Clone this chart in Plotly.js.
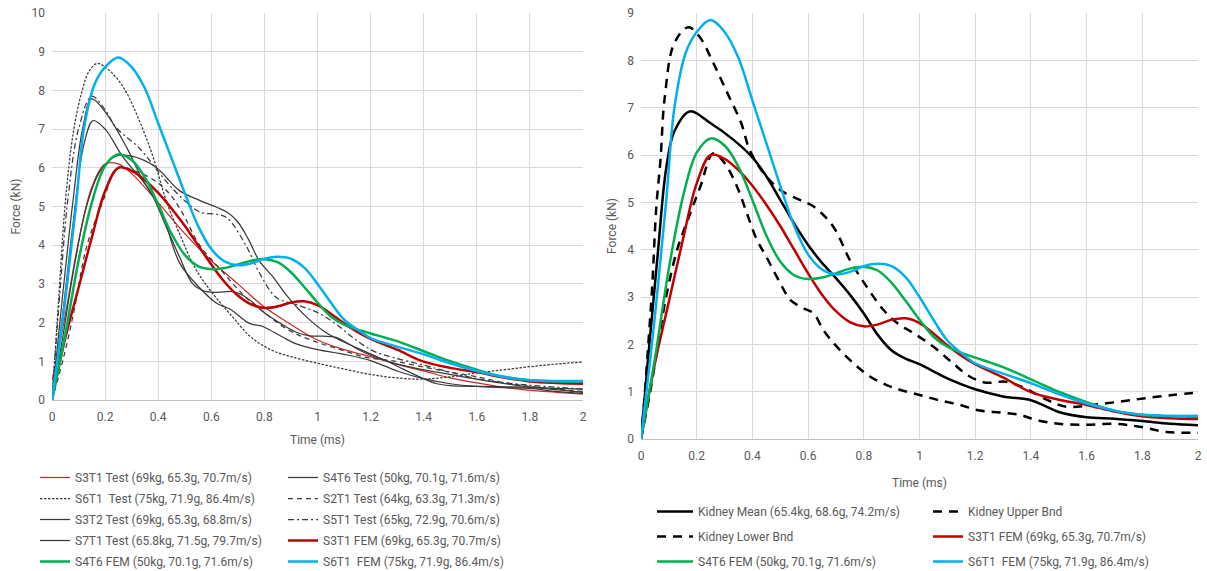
<!DOCTYPE html>
<html>
<head>
<meta charset="utf-8">
<script src="https://cdn.plot.ly/plotly-3.0.1.min.js"></script>
<style>
  html, body { margin: 0; padding: 0; background: #ffffff; }
  #chart { width: 1207px; height: 571px; }
</style>
</head>
<body>
<div id="chart"></div>
<script>
// ---- Impact force histories, time in ms, force in kN ----

// Test measurements (left panel)
const tS3T1Test = [0, 0.05, 0.1, 0.15, 0.2, 0.25, 0.3, 0.4, 0.5, 0.6, 0.7, 0.8, 0.9, 1.0, 1.1, 1.2, 1.3, 1.4, 1.5, 1.6, 1.7, 1.8, 1.9, 2.0];
const fS3T1Test = [0.5, 2.2, 4.1, 5.5, 6.1, 6.1, 5.85, 5.1, 4.3, 3.6, 3.0, 2.4, 1.95, 1.55, 1.3, 1.12, 0.92, 0.75, 0.57, 0.44, 0.33, 0.25, 0.2, 0.15];

const tS4T6Test = [0, 0.04, 0.08, 0.13, 0.18, 0.24, 0.3, 0.39, 0.48, 0.556, 0.62, 0.66, 0.7, 0.74, 0.78, 0.83, 0.89, 0.95, 1.03, 1.1, 1.18, 1.26, 1.31, 1.4, 1.45, 1.5, 1.6, 1.7, 1.8, 1.9, 2.0];
const fS4T6Test = [0, 1.6, 3.3, 5.0, 5.9, 6.3, 6.3, 6.02, 5.41, 5.16, 4.98, 4.85, 4.6, 4.15, 3.6, 3.2, 2.65, 2.2, 1.75, 1.5, 1.25, 1.01, 0.84, 0.55, 0.42, 0.37, 0.35, 0.34, 0.33, 0.3, 0.28];

const tS6T1Test = [0, 0.025, 0.05, 0.08, 0.11, 0.14, 0.17, 0.2, 0.24, 0.28, 0.33, 0.38, 0.43, 0.48, 0.54, 0.6, 0.68, 0.75, 0.83, 0.9, 1.0, 1.1, 1.2, 1.3, 1.4, 1.5, 1.6, 1.7, 1.8, 1.9, 2.0];
const fS6T1Test = [0, 2.6, 5.1, 6.9, 7.9, 8.5, 8.7, 8.6, 8.35, 7.95, 7.2, 6.3, 5.15, 4.3, 3.4, 2.8, 2.15, 1.62, 1.28, 1.12, 0.95, 0.8, 0.66, 0.57, 0.54, 0.6, 0.7, 0.78, 0.86, 0.93, 0.98];

const tS2T1Test = [0, 0.04, 0.08, 0.13, 0.19, 0.25, 0.3, 0.38, 0.44, 0.49, 0.556, 0.644, 0.73, 0.807, 0.895, 0.983, 1.083, 1.184, 1.284, 1.4, 1.5, 1.6, 1.7, 1.8, 1.9, 2.0];
const fS2T1Test = [0, 1.0, 2.2, 3.95, 5.1, 6.02, 5.95, 5.7, 5.35, 4.85, 4.0, 3.3, 2.65, 2.22, 1.79, 1.53, 1.31, 1.1, 1.01, 0.85, 0.72, 0.6, 0.45, 0.35, 0.28, 0.22];

const tS3T2Test = [0, 0.04, 0.08, 0.115, 0.15, 0.205, 0.28, 0.343, 0.406, 0.48, 0.556, 0.62, 0.67, 0.744, 0.794, 0.87, 0.92, 1.0, 1.1, 1.2, 1.3, 1.4, 1.5, 1.6, 1.7, 1.8, 1.9, 2.0];
const fS3T2Test = [0, 2.7, 5.2, 7.0, 7.78, 7.4, 6.54, 5.67, 5.0, 3.55, 2.9, 2.5, 2.35, 1.98, 1.9, 1.62, 1.45, 1.3, 1.18, 1.02, 0.75, 0.55, 0.42, 0.35, 0.32, 0.3, 0.22, 0.17];

const tS5T1Test = [0, 0.03, 0.06, 0.1, 0.15, 0.2, 0.24, 0.33, 0.43, 0.5, 0.56, 0.62, 0.66, 0.73, 0.78, 0.845, 0.93, 1.0, 1.07, 1.134, 1.209, 1.284, 1.4, 1.5, 1.6, 1.7, 1.8, 1.9, 2.0];
const fS5T1Test = [0, 2.8, 5.2, 7.0, 7.85, 7.5, 7.05, 6.5, 5.65, 5.15, 4.85, 4.8, 4.7, 4.0, 3.3, 2.65, 2.44, 2.26, 1.96, 1.61, 1.27, 1.1, 0.9, 0.72, 0.55, 0.45, 0.38, 0.33, 0.28];

const tS7T1Test = [0, 0.04, 0.08, 0.12, 0.155, 0.2, 0.267, 0.368, 0.431, 0.48, 0.53, 0.57, 0.62, 0.68, 0.72, 0.76, 0.81, 0.86, 0.92, 0.97, 1.02, 1.07, 1.12, 1.16, 1.26, 1.35, 1.45, 1.55, 1.65, 1.75, 1.85, 2.0];
const fS7T1Test = [0, 2.2, 4.6, 6.6, 7.22, 7.0, 6.28, 5.41, 4.46, 3.7, 3.0, 2.82, 2.78, 2.8, 2.7, 2.5, 2.2, 1.98, 1.75, 1.66, 1.65, 1.62, 1.44, 1.28, 1.01, 0.85, 0.72, 0.6, 0.48, 0.38, 0.3, 0.2];

// Finite element model results (both panels)
const tS3T1FEM = [0, 0.05, 0.1, 0.15, 0.2, 0.25, 0.3, 0.35, 0.4, 0.45, 0.5, 0.55, 0.6, 0.65, 0.7, 0.75, 0.8, 0.85, 0.9, 0.95, 1.0, 1.05, 1.1, 1.15, 1.2, 1.3, 1.4, 1.5, 1.6, 1.7, 1.8, 1.9, 2.0];
const fS3T1FEM = [0, 1.6, 2.9, 4.2, 5.4, 6.0, 5.92, 5.68, 5.35, 4.95, 4.5, 4.0, 3.5, 3.05, 2.7, 2.47, 2.38, 2.42, 2.52, 2.55, 2.45, 2.23, 1.98, 1.76, 1.58, 1.3, 0.99, 0.83, 0.72, 0.58, 0.48, 0.44, 0.42];

const tS4T6FEM = [0, 0.05, 0.1, 0.15, 0.2, 0.25, 0.3, 0.35, 0.4, 0.45, 0.5, 0.55, 0.6, 0.65, 0.7, 0.75, 0.8, 0.85, 0.9, 0.95, 1.0, 1.05, 1.1, 1.15, 1.2, 1.3, 1.4, 1.5, 1.6, 1.7, 1.8, 1.9, 2.0];
const fS4T6FEM = [0, 1.7, 3.6, 5.1, 6.05, 6.35, 6.2, 5.75, 5.05, 4.3, 3.75, 3.46, 3.38, 3.41, 3.5, 3.6, 3.64, 3.56, 3.3, 2.92, 2.52, 2.16, 1.95, 1.82, 1.72, 1.52, 1.26, 1.0, 0.78, 0.6, 0.51, 0.48, 0.47];

const tS6T1FEM = [0, 0.05, 0.09, 0.12, 0.16, 0.2, 0.25, 0.3, 0.35, 0.4, 0.45, 0.5, 0.55, 0.6, 0.65, 0.7, 0.75, 0.8, 0.85, 0.9, 0.95, 1.0, 1.05, 1.1, 1.15, 1.2, 1.3, 1.4, 1.5, 1.6, 1.7, 1.8, 1.9, 2.0];
const fS6T1FEM = [0, 2.6, 5.0, 7.0, 8.15, 8.6, 8.85, 8.6, 8.05, 7.15, 6.25, 5.35, 4.5, 3.9, 3.58, 3.48, 3.53, 3.65, 3.7, 3.65, 3.42, 3.0, 2.52, 2.08, 1.82, 1.6, 1.38, 1.18, 0.95, 0.75, 0.6, 0.51, 0.49, 0.49];

// Kidney corridor (right panel)
const tKidneyMean = [0, 0.03, 0.06, 0.09, 0.12, 0.175, 0.25, 0.33, 0.4, 0.45, 0.5, 0.55, 0.6, 0.65, 0.7, 0.75, 0.8, 0.85, 0.9, 0.95, 1.0, 1.05, 1.1, 1.2, 1.3, 1.4, 1.45, 1.5, 1.6, 1.7, 1.8, 1.9, 2.0];
const fKidneyMean = [0, 2.0, 3.9, 5.7, 6.5, 6.92, 6.67, 6.33, 5.95, 5.55, 5.05, 4.55, 4.1, 3.72, 3.4, 3.05, 2.65, 2.2, 1.87, 1.7, 1.58, 1.43, 1.28, 1.05, 0.9, 0.82, 0.7, 0.57, 0.46, 0.43, 0.38, 0.32, 0.29];

const tKidneyUpper = [0, 0.01, 0.025, 0.04, 0.055, 0.07, 0.085, 0.12, 0.17, 0.21, 0.26, 0.31, 0.36, 0.39, 0.44, 0.5, 0.57, 0.62, 0.69, 0.75, 0.81, 0.87, 0.92, 0.98, 1.05, 1.12, 1.18, 1.24, 1.31, 1.38, 1.46, 1.53, 1.62, 1.72, 1.81, 1.91, 2.0];
const fKidneyUpper = [0, 0.68, 1.9, 3.2, 4.9, 5.9, 7.2, 8.37, 8.7, 8.5, 7.94, 7.31, 6.67, 6.11, 5.62, 5.26, 5.05, 4.91, 4.49, 3.78, 3.22, 2.73, 2.45, 2.23, 1.95, 1.6, 1.32, 1.19, 1.21, 1.07, 0.82, 0.68, 0.72, 0.79, 0.86, 0.93, 0.98];

const tKidneyLower = [0, 0.03, 0.058, 0.088, 0.13, 0.177, 0.213, 0.26, 0.3, 0.345, 0.38, 0.416, 0.45, 0.5, 0.536, 0.584, 0.619, 0.655, 0.703, 0.763, 0.822, 0.882, 0.93, 1.0, 1.07, 1.145, 1.217, 1.289, 1.36, 1.42, 1.5, 1.6, 1.7, 1.79, 1.886, 2.0];
const fKidneyLower = [0, 0.9, 1.88, 2.94, 4.0, 4.77, 5.33, 6.04, 5.83, 5.33, 4.77, 4.21, 3.85, 3.29, 2.94, 2.76, 2.66, 2.3, 1.95, 1.6, 1.32, 1.14, 1.04, 0.93, 0.82, 0.72, 0.6, 0.56, 0.51, 0.4, 0.32, 0.3, 0.32, 0.26, 0.15, 0.13];

// Legend labels
const labels = {
  s3t1Test: 'S3T1 Test (69kg, 65.3g, 70.7m/s)',
  s4t6Test: 'S4T6 Test (50kg, 70.1g, 71.6m/s)',
  s6t1Test: 'S6T1\u00a0 Test (75kg, 71.9g, 86.4m/s)',
  s2t1Test: 'S2T1 Test (64kg, 63.3g, 71.3m/s)',
  s3t2Test: 'S3T2 Test (69kg, 65.3g, 68.8m/s)',
  s5t1Test: 'S5T1 Test (65kg, 72.9g, 70.6m/s)',
  s7t1Test: 'S7T1 Test (65.8kg, 71.5g, 79.7m/s)',
  s3t1FEM: 'S3T1 FEM (69kg, 65.3g, 70.7m/s)',
  s4t6FEM: 'S4T6 FEM (50kg, 70.1g, 71.6m/s)',
  s6t1FEM: 'S6T1\u00a0 FEM (75kg, 71.9g, 86.4m/s)',
  kidneyMean: 'Kidney Mean (65.4kg, 68.6g, 74.2m/s)',
  kidneyUpper: 'Kidney Upper Bnd',
  kidneyLower: 'Kidney Lower Bnd'
};

// ---- styling ----
const FONT = 'Roboto, "Liberation Sans", sans-serif';
const TEXT_GREY = '#595959';
const RED = '#c00000', GREEN = '#00b050', BLUE = '#00b0f0';
const TEST_GREY = '#3a3a3a';

let groupId = 0;
function series(t, f, name, axes, legend, line) {
  groupId += 1;
  return {
    type: 'scatter', mode: 'lines',
    x: t, y: f, name: name,
    xaxis: axes[0], yaxis: axes[1],
    legend: legend, legendgroup: 'g' + groupId,
    line: Object.assign({ shape: 'spline', smoothing: 1 }, line),
    hoverinfo: 'skip'
  };
}

const L = ['x', 'y'], R = ['x2', 'y2'];

const traces = [
  // left panel, drawn in series order
  series(tS3T1Test, fS3T1Test, labels.s3t1Test, L, 'legend',  { color: '#d02828', width: 1.25 }),
  series(tS4T6Test, fS4T6Test, labels.s4t6Test, L, 'legend2', { color: TEST_GREY, width: 1.25 }),
  series(tS6T1Test, fS6T1Test, labels.s6t1Test, L, 'legend',  { color: TEST_GREY, width: 1.25, dash: '2.5px,1.5px' }),
  series(tS2T1Test, fS2T1Test, labels.s2t1Test, L, 'legend2', { color: TEST_GREY, width: 1.25, dash: '5px,4px' }),
  series(tS3T2Test, fS3T2Test, labels.s3t2Test, L, 'legend',  { color: TEST_GREY, width: 1.25 }),
  series(tS5T1Test, fS5T1Test, labels.s5t1Test, L, 'legend2', { color: TEST_GREY, width: 1.25, dash: '6px,3px,2px,3px' }),
  series(tS7T1Test, fS7T1Test, labels.s7t1Test, L, 'legend',  { color: TEST_GREY, width: 1.25 }),
  series(tS3T1FEM, fS3T1FEM, labels.s3t1FEM, L, 'legend2', { color: RED, width: 2.5 }),
  series(tS4T6FEM, fS4T6FEM, labels.s4t6FEM, L, 'legend',  { color: GREEN, width: 2.5 }),
  series(tS6T1FEM, fS6T1FEM, labels.s6t1FEM, L, 'legend2', { color: BLUE, width: 2.5 }),
  // right panel
  series(tKidneyMean, fKidneyMean, labels.kidneyMean, R, 'legend3', { color: '#000000', width: 2.5 }),
  series(tKidneyUpper, fKidneyUpper, labels.kidneyUpper, R, 'legend4', { color: '#000000', width: 2.5, dash: '9px,7px' }),
  series(tKidneyLower, fKidneyLower, labels.kidneyLower, R, 'legend3', { color: '#000000', width: 2.5, dash: '9px,7px' }),
  series(tS3T1FEM, fS3T1FEM, labels.s3t1FEM, R, 'legend4', { color: RED, width: 2.5 }),
  series(tS4T6FEM, fS4T6FEM, labels.s4t6FEM, R, 'legend3', { color: GREEN, width: 2.5 }),
  series(tS6T1FEM, fS6T1FEM, labels.s6t1FEM, R, 'legend4', { color: BLUE, width: 2.5 })
];

const W = 1207, H = 571;
const px = v => v / W;          // horizontal pixel -> paper
const py = v => (H - v) / H;    // vertical pixel (from top) -> paper

function xAxis(domain, anchor, titleGap) {
  return {
    domain: domain, anchor: anchor,
    range: [0, 2], dtick: 0.2, tick0: 0,
    showgrid: true, gridcolor: '#d9d9d9', gridwidth: 1,
    zeroline: false, showline: true, linecolor: '#bfbfbf', linewidth: 1,
    ticks: '', ticklabelstandoff: 6,
    tickfont: { family: FONT, size: 12, color: TEXT_GREY },
    title: { text: 'Time (ms)', font: { family: FONT, size: 12, color: TEXT_GREY }, standoff: titleGap },
    fixedrange: true, automargin: false
  };
}
function yAxis(domain, anchor, top) {
  return {
    domain: domain, anchor: anchor,
    range: [0, top], dtick: 1, tick0: 0,
    showgrid: true, gridcolor: '#d9d9d9', gridwidth: 1,
    zeroline: false, showline: false,
    ticks: '', ticklabelstandoff: 6,
    tickfont: { family: FONT, size: 12, color: TEXT_GREY },
    title: { text: 'Force (kN)', font: { family: FONT, size: 12, color: TEXT_GREY }, standoff: 8 },
    fixedrange: true, automargin: false
  };
}

function legendBox(xPix, yPix, gap, itemwidth) {
  return {
    x: px(xPix), y: py(yPix), xanchor: 'left', yanchor: 'top',
    orientation: 'v', traceorder: 'grouped', tracegroupgap: gap,
    itemwidth: itemwidth || 30,
    bgcolor: 'rgba(0,0,0,0)', borderwidth: 0,
    font: { family: FONT, size: 12, color: TEXT_GREY }
  };
}

const layout = {
  width: W, height: H,
  margin: { l: 0, r: 0, t: 0, b: 0, autoexpand: false },
  paper_bgcolor: '#ffffff', plot_bgcolor: '#ffffff',
  showlegend: true,
  xaxis: xAxis([px(52), px(583)], 'y', 12),
  yaxis: yAxis([py(400), py(13)], 'x', 10),
  xaxis2: xAxis([px(641), px(1198)], 'y2', 16),
  yaxis2: yAxis([py(439), py(13)], 'x2', 9),
  legend:  legendBox(35, 463, 2),
  legend2: legendBox(283, 463, 2),
  legend3: legendBox(652, 497, 6, 36),
  legend4: legendBox(928, 497, 6, 30)
};

Plotly.newPlot('chart', traces, layout, { displayModeBar: false, staticPlot: true });
</script>
</body>
</html>
